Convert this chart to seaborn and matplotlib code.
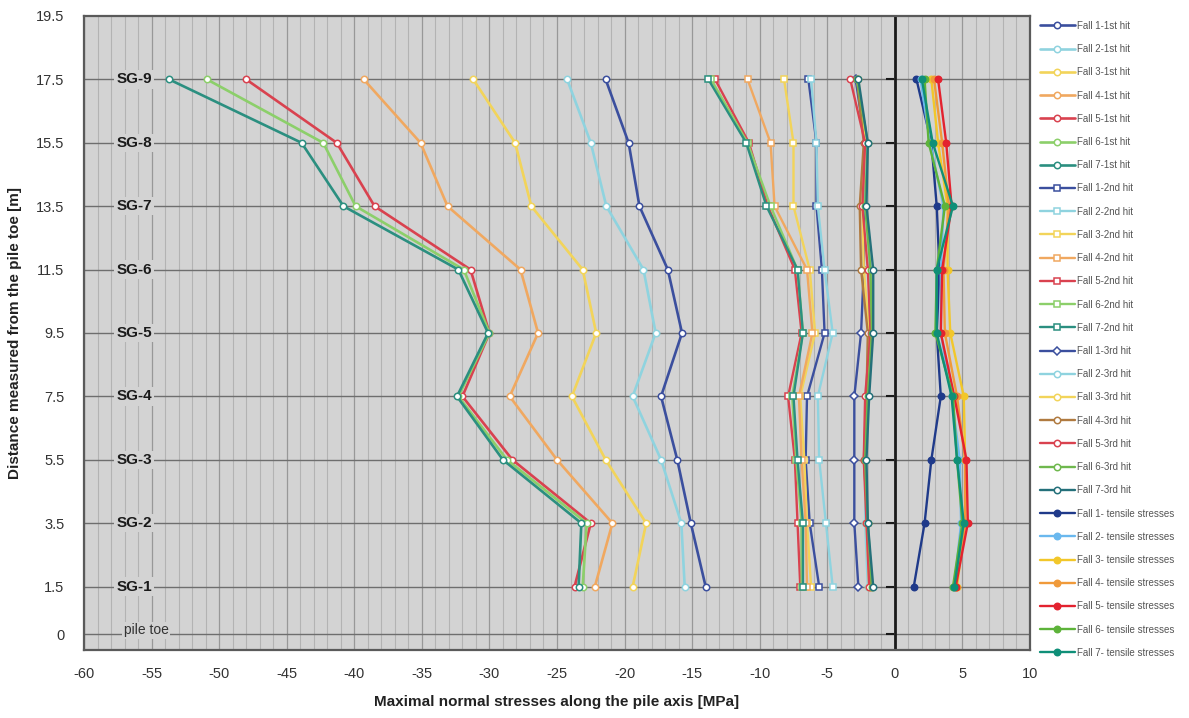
import matplotlib
matplotlib.use("Agg")
import matplotlib.pyplot as plt
import seaborn as sns
import numpy as np

# ---------------- data ----------------
depths = [1.5, 3.5, 5.5, 7.5, 9.5, 11.5, 13.5, 15.5, 17.5]
gauge_labels = ["SG-1", "SG-2", "SG-3", "SG-4", "SG-5", "SG-6", "SG-7", "SG-8", "SG-9"]
falls = ["Fall 1", "Fall 2", "Fall 3", "Fall 4", "Fall 5", "Fall 6", "Fall 7"]

hit1 = [
    [-14.0, -15.1, -16.1, -17.3, -15.75, -16.8, -18.9, -19.7, -21.4],
    [-15.55, -15.8, -17.3, -19.4, -17.7, -18.6, -21.35, -22.5, -24.25],
    [-19.4, -18.4, -21.4, -23.9, -22.1, -23.1, -26.9, -28.1, -31.2],
    [-22.2, -20.9, -25.0, -28.5, -26.4, -27.7, -33.1, -35.1, -39.3],
    [-23.7, -22.5, -28.3, -32.0, -30.0, -31.4, -38.5, -41.3, -48.0],
    [-23.1, -22.8, -28.7, -32.3, -30.0, -31.9, -39.9, -42.3, -50.9],
    [-23.4, -23.2, -29.0, -32.4, -30.1, -32.3, -40.8, -43.9, -53.7],
]
hit2 = [
    [-5.6, -6.3, -6.6, -6.5, -5.2, -5.4, -5.8, -5.8, -6.4],
    [-4.6, -5.1, -5.6, -5.7, -4.6, -5.2, -5.7, -5.8, -6.2],
    [-6.2, -6.5, -6.7, -7.0, -5.9, -6.3, -7.5, -7.5, -8.2],
    [-6.5, -6.6, -6.9, -7.1, -6.1, -6.5, -8.9, -9.2, -10.9],
    [-7.0, -7.2, -7.4, -7.9, -6.9, -7.4, -9.4, -10.8, -13.3],
    [-6.9, -6.9, -7.3, -7.6, -6.8, -7.2, -9.2, -10.9, -13.6],
    [-6.8, -6.8, -7.2, -7.5, -6.8, -7.2, -9.5, -11.0, -13.8],
]
hit3 = [
    [-2.7, -3.0, -3.0, -3.0, -2.5, -2.3, -2.3, -2.2, -2.9],
    [-2.0, -2.2, -2.2, -2.1, -1.9, -1.8, -2.2, -2.1, -2.8],
    [-1.9, -2.1, -2.2, -2.0, -1.9, -2.3, -2.4, -2.2, -2.7],
    [-1.8, -2.0, -2.3, -2.1, -2.0, -2.5, -2.6, -2.3, -2.8],
    [-1.9, -2.1, -2.3, -2.2, -1.8, -2.0, -2.4, -2.2, -3.3],
    [-1.7, -2.0, -2.2, -2.0, -1.7, -1.8, -2.2, -2.0, -2.8],
    [-1.6, -2.0, -2.1, -1.9, -1.6, -1.6, -2.1, -2.0, -2.7],
]
tensile = [
    [1.4, 2.2, 2.7, 3.4, 3.1, 3.3, 3.1, 2.7, 1.6],
    [4.4, 4.9, 4.8, 4.2, 3.4, 3.4, 3.6, 2.6, 1.9],
    [4.6, 5.2, 5.2, 5.1, 4.1, 3.9, 3.9, 3.2, 2.7],
    [4.5, 5.2, 5.2, 4.6, 3.7, 3.6, 4.0, 3.5, 2.9],
    [4.5, 5.4, 5.3, 4.4, 3.4, 3.5, 4.2, 3.8, 3.2],
    [4.3, 5.0, 4.6, 4.3, 3.0, 3.1, 3.7, 2.5, 2.2],
    [4.4, 5.1, 4.6, 4.2, 3.1, 3.1, 4.3, 2.8, 2.0],
]

y_ticks = [0, 1.5, 3.5, 5.5, 7.5, 9.5, 11.5, 13.5, 15.5, 17.5, 19.5]
y_tick_labels = ["0", "1.5", "3.5", "5.5", "7.5", "9.5", "11.5", "13.5", "15.5", "17.5", "19.5"]
x_ticks = [-60, -55, -50, -45, -40, -35, -30, -25, -20, -15, -10, -5, 0, 5, 10]

# ---------------- styles ----------------
hit_colors = ["#3b4f9e", "#8fd3df", "#f2d45a", "#f0a860", "#d9424f", "#8ccf6a", "#2b8f80"]
hit3_colors = ["#3b4f9e", "#8fd3df", "#f2d45a", "#b07a40", "#d9424f", "#6fb84e", "#24707a"]
ten_colors = ["#1f3a8a", "#6ab8ee", "#f2c72a", "#f09a3a", "#e3222f", "#5db33a", "#0f8f78"]

sns.set_style("white")
plt.rcParams["font.family"] = ["Liberation Sans", "DejaVu Sans"]

fig = plt.figure(figsize=(11.89, 7.18), dpi=100)
ax = fig.add_axes([84 / 1189, 1 - 650 / 718, (1030 - 84) / 1189, (650 - 16) / 718])
ax.set_facecolor("#d3d3d3")

ax.set_xlim(-60, 10)
ax.set_ylim(-0.5, 19.5)

# grid
for xv in range(-60, 11):
    ax.axvline(xv, color="#989898" if xv % 5 == 0 else "#b3b3b3",
               lw=0.9 if xv % 5 == 0 else 0.8, zorder=0.5)
for yv in y_ticks[:-1]:
    ax.axhline(yv, color="#6e6e6e", lw=1.0, zorder=0.6)
ax.axvline(0, color="#1a1a1a", lw=2.0, zorder=0.9)
# small tick marks on the zero line
sns.scatterplot(x=[-0.35] * (len(y_ticks) - 1), y=y_ticks[:-1], marker="_", s=40,
                color="#1a1a1a", linewidth=1.5, ax=ax, zorder=0.95, legend=False)


def draw(vals, color, marker, filled, label, lw=1.7, ms=4.6):
    sns.lineplot(x=vals, y=depths, sort=False, estimator=None, ax=ax,
                 color=color, lw=lw, marker=marker, markersize=ms,
                 markerfacecolor=color if filled else "white",
                 markeredgecolor=color, markeredgewidth=1.1,
                 label=label, zorder=3)


for i, f in enumerate(falls):
    draw(hit1[i], hit_colors[i], "o", False, f"{f}-1st hit", lw=1.9)
for i, f in enumerate(falls):
    draw(hit2[i], hit_colors[i], "s", False, f"{f}-2nd hit")
for i, f in enumerate(falls):
    draw(hit3[i], hit3_colors[i], "D" if i == 0 else "o", False, f"{f}-3rd hit",
         ms=4.0 if i == 0 else 4.6)
for i, f in enumerate(falls):
    draw(tensile[i], ten_colors[i], "o", True, f"{f}- tensile stresses")

handles, labels = ax.get_legend_handles_labels()
ax.get_legend().remove()
leg = fig.legend(handles, labels, loc="upper left",
                 bbox_to_anchor=(1036 / 1189, 1 - 17 / 718),
                 frameon=False, fontsize=7, handlelength=3.6,
                 handletextpad=0.25, labelspacing=1.36, borderaxespad=0)
for t in leg.get_texts():
    t.set_color("#555555")

# gauge labels
for d, g in zip(depths, gauge_labels):
    ax.text(-56.3, d, g, ha="center", va="center", fontsize=11, fontweight="bold",
            color="#1a1a1a", zorder=2,
            bbox=dict(facecolor="#d3d3d3", edgecolor="none", pad=1.5))
ax.text(-55.4, 0.12, "pile toe", ha="center", va="center", fontsize=10,
        color="#333333", zorder=2,
        bbox=dict(facecolor="#d3d3d3", edgecolor="none", pad=1.0))

ax.set_xticks(x_ticks)
ax.set_xticklabels([str(v) for v in x_ticks])
ax.set_yticks(y_ticks)
ax.set_yticklabels(y_tick_labels)
ax.tick_params(axis="both", length=0, labelsize=10.5, colors="#333333", pad=12)
ax.tick_params(axis="y", pad=14)

for s in ax.spines.values():
    s.set_color("#5a5a5a")
    s.set_linewidth(1.6)
    s.set_visible(True)

ax.set_xlabel("Maximal normal stresses along the pile axis [MPa]", fontsize=11,
              fontweight="bold", color="#222222", labelpad=10)
ax.set_ylabel("Distance measured from the pile toe [m]", fontsize=11,
              fontweight="bold", color="#222222", labelpad=10)

fig.savefig("out.png", dpi=100, facecolor="white")
